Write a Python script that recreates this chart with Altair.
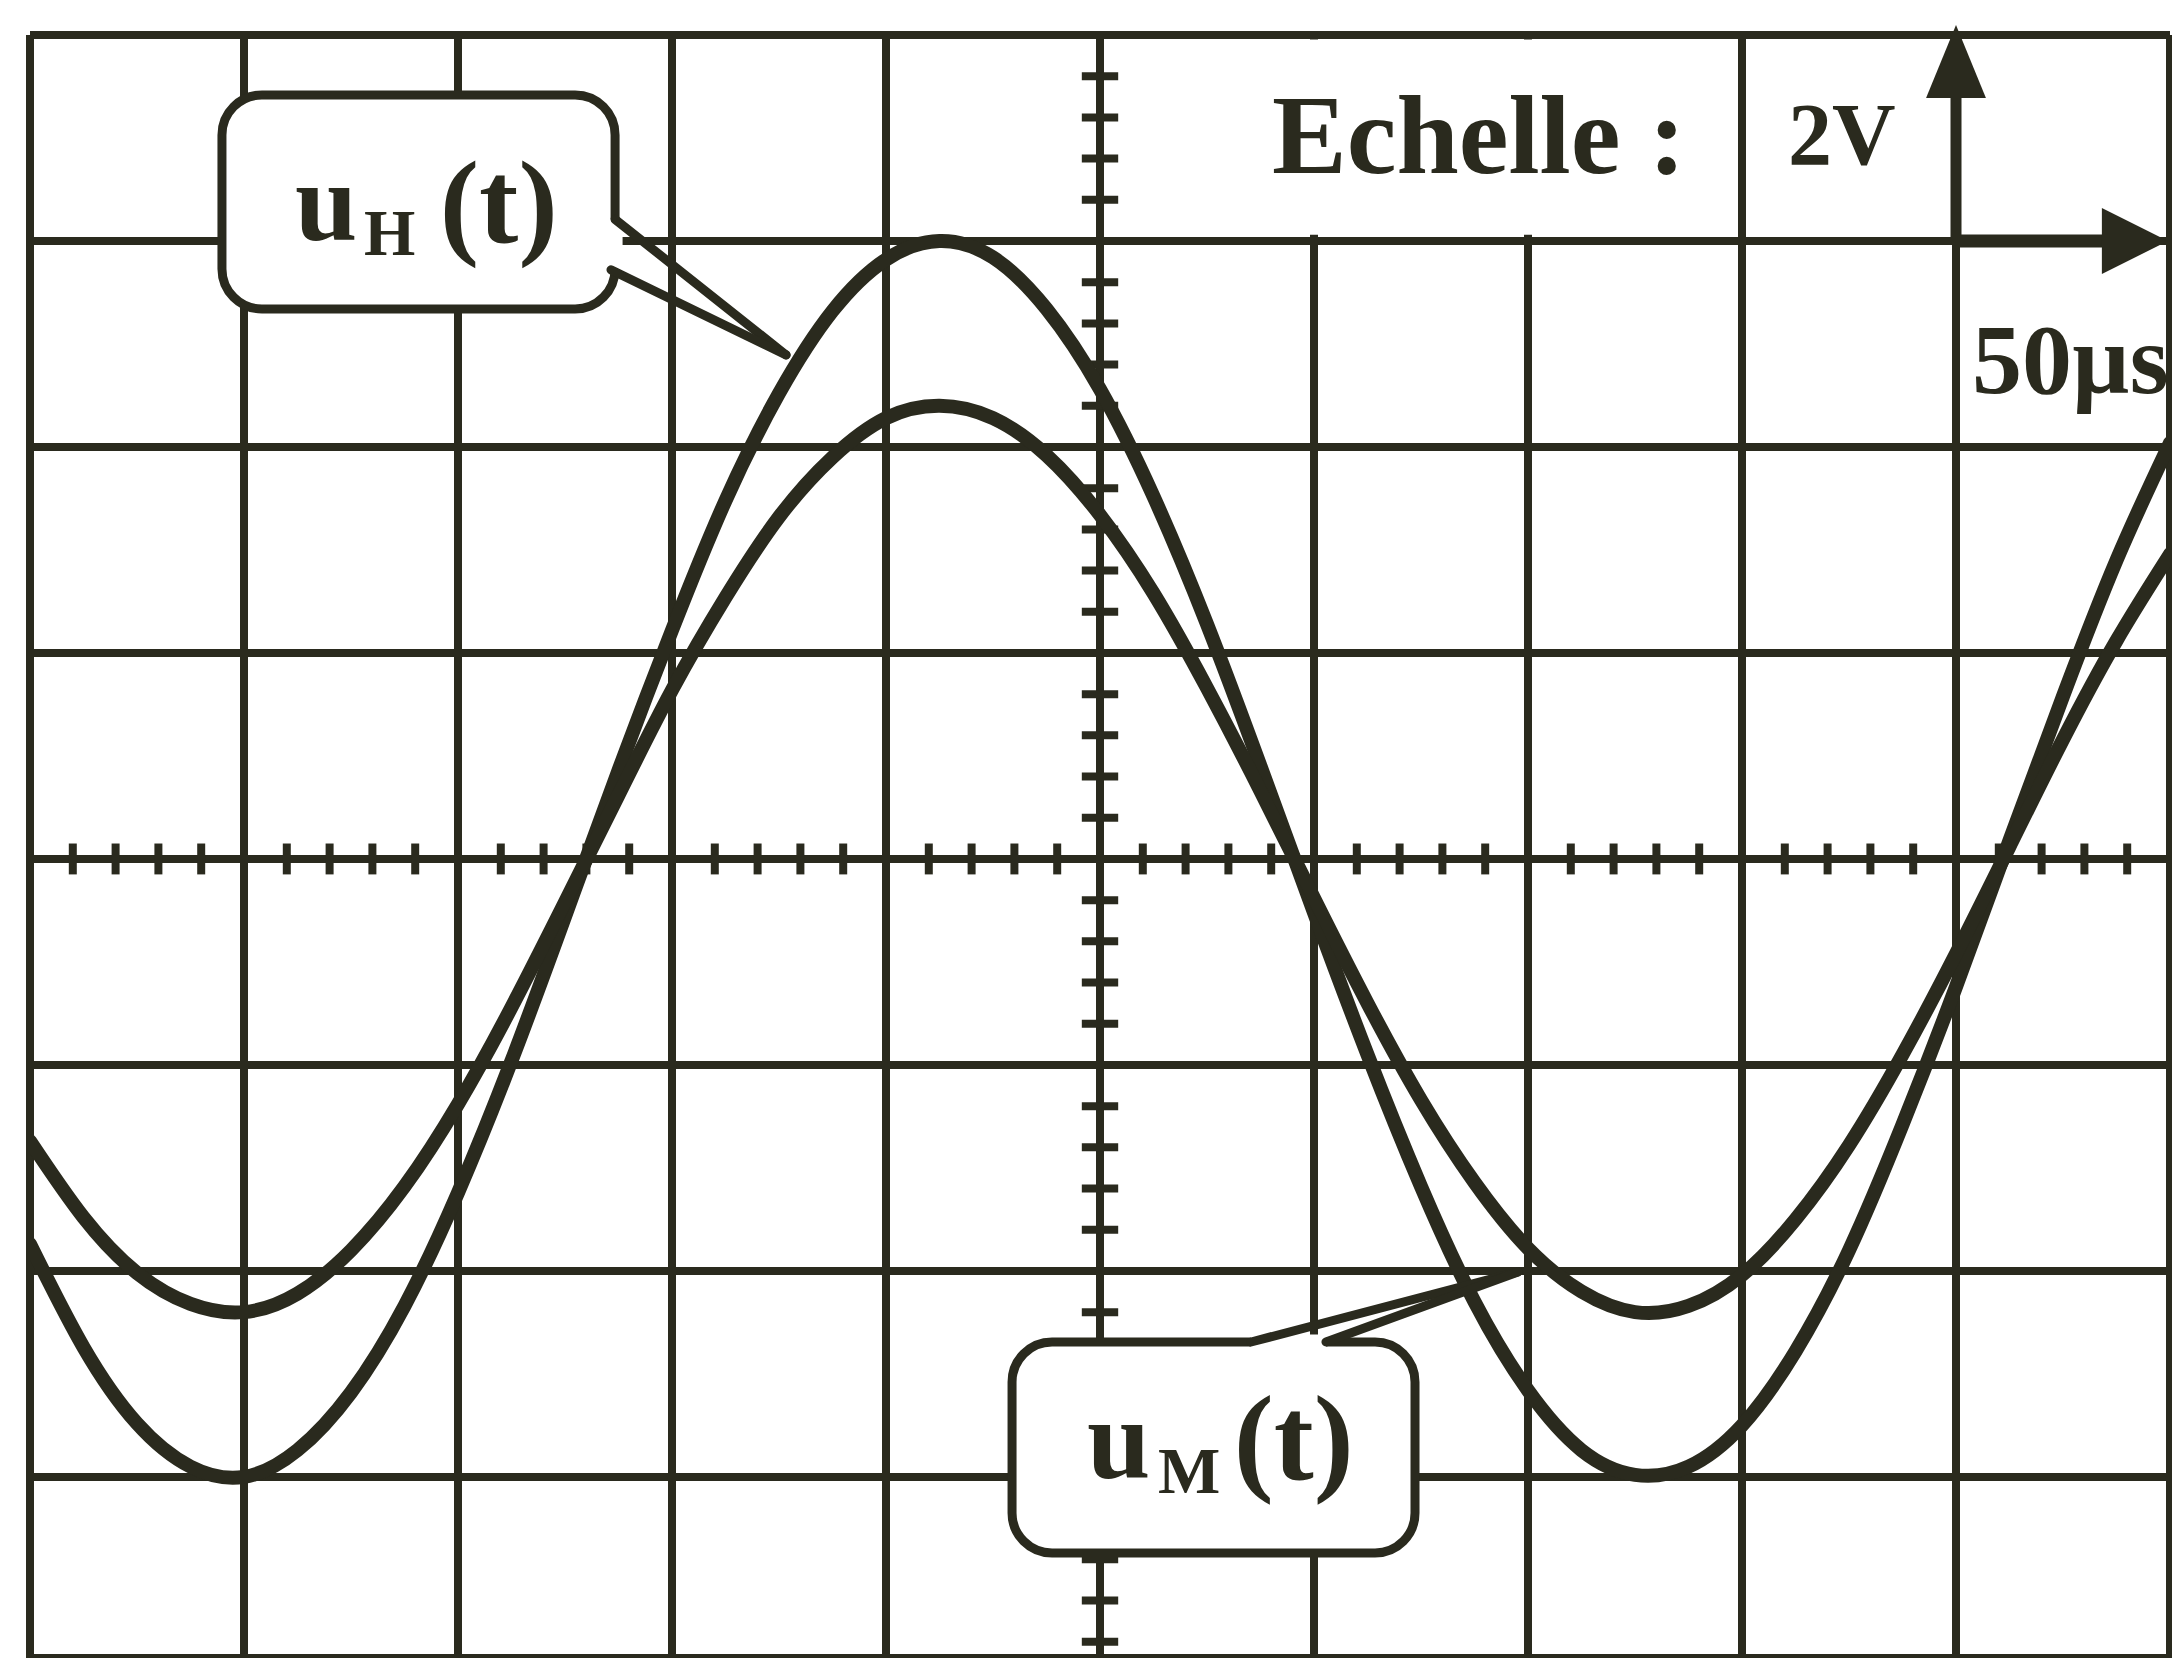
import altair as alt
import pandas as pd

# ---- data (units: divisions) ----
t_div = [0.0, 0.25, 0.5, 0.75, 1.0, 1.25, 1.5, 1.75, 2.0, 2.25, 2.5, 2.75, 3.0, 3.25,
         3.5, 3.75, 4.0, 4.25, 4.5, 4.75, 5.0, 5.25, 5.5, 5.75, 6.0, 6.25, 6.5, 6.75,
         7.0, 7.25, 7.5, 7.75, 8.0, 8.25, 8.5, 8.75, 9.0, 9.25, 9.5, 9.75, 10.0]
u_H = [-1.87, -2.37, -2.74, -2.95, -3.00, -2.87, -2.59, -2.17, -1.62, -0.98, -0.28, 0.43,
       1.11, 1.74, 2.26, 2.66, 2.91, 3.00, 2.92, 2.67, 2.28, 1.76, 1.14, 0.45, -0.26,
       -0.95, -1.59, -2.15, -2.58, -2.87, -2.99, -2.95, -2.75, -2.39, -1.90, -1.29, -0.62,
       0.09, 0.79, 1.45, 2.02]
u_M = [-1.37, -1.74, -2.01, -2.16, -2.20, -2.11, -1.90, -1.59, -1.19, -0.72, -0.21, 0.31,
       0.82, 1.27, 1.66, 1.95, 2.14, 2.20, 2.14, 1.96, 1.67, 1.29, 0.83, 0.33, -0.19,
       -0.70, -1.17, -1.57, -1.89, -2.10, -2.20, -2.17, -2.02, -1.75, -1.39, -0.95, -0.46,
       0.06, 0.58, 1.06, 1.48]

grid_t = [0, 1, 2, 3, 4, 5, 6, 7, 8, 9, 10]
grid_u = [-3.879, -3, -2, -1, 0, 1, 2, 3, 4]
minor_ticks_t = [round(k * 0.2, 2) for k in range(1, 50) if k % 5 != 0]
minor_ticks_u = [round(k * 0.2, 2) for k in range(-19, 20) if k % 5 != 0]

scale_texts = ["Echelle :", "2V", "50\u00b5s"]

INK = "#2a2a1e"
W, H = 2140, 1623
xs = alt.Scale(domain=[0, 10], nice=False, zero=False)
ys = alt.Scale(domain=[-3.879, 4], nice=False, zero=False)


def X(f="x"):
    return alt.X(f"{f}:Q", scale=xs, axis=None)


def Y(f="y"):
    return alt.Y(f"{f}:Q", scale=ys, axis=None)


# grid
vgrid = alt.Chart(pd.DataFrame({"x": grid_t})).mark_rule(color=INK, strokeWidth=8).encode(x=X())
hgrid = alt.Chart(pd.DataFrame({"y": grid_u})).mark_rule(color=INK, strokeWidth=8).encode(y=Y())

# graduations on the central axes
tx = pd.DataFrame({"x": minor_ticks_t, "y": [-0.075] * len(minor_ticks_t),
                   "y2": [0.075] * len(minor_ticks_t)})
ticks_x = alt.Chart(tx).mark_rule(color=INK, strokeWidth=8).encode(
    x=X(), y=Y(), y2=alt.Y2("y2:Q"))
ty = pd.DataFrame({"y": minor_ticks_u, "x": [4.915] * len(minor_ticks_u),
                   "x2": [5.085] * len(minor_ticks_u)})
ticks_y = alt.Chart(ty).mark_rule(color=INK, strokeWidth=8).encode(
    y=Y(), x=X(), x2=alt.X2("x2:Q"))

# curves
curves_df = pd.DataFrame({
    "x": t_div * 2,
    "y": u_H + u_M,
    "s": ["uH"] * len(t_div) + ["uM"] * len(t_div),
})
curves = alt.Chart(curves_df).mark_line(
    color=INK, strokeWidth=14, interpolate="natural", strokeCap="round", clip=True
).encode(x=X(), y=Y(), detail="s:N")

# blank area behind "Echelle :"
blank = alt.Chart(pd.DataFrame({"x": [5.12], "x2": [7.92], "y": [3.03], "y2": [3.978]})).mark_rect(
    color="white").encode(x=X(), x2=alt.X2("x2:Q"), y=Y(), y2=alt.Y2("y2:Q"))

# scale arrows
shafts = alt.Chart(pd.DataFrame({
    "x": [9.0, 9.0], "x2": [9.0, 9.8], "y": [3.0, 3.0], "y2": [4.02, 3.0], "w": [11, 13]
})).mark_rule(color=INK).encode(x=X(), x2=alt.X2("x2:Q"), y=Y(), y2=alt.Y2("y2:Q"),
                                 strokeWidth=alt.StrokeWidth("w:Q", scale=None))
head_up = alt.Chart(pd.DataFrame({"x": [9.0], "y": [3.871]})).mark_point(
    shape="M0,-1L0.82,1L-0.82,1Z", filled=True, color=INK, opacity=1, size=5329, strokeWidth=0
).encode(x=X(), y=Y())
head_right = alt.Chart(pd.DataFrame({"x": [9.836], "y": [3.0]})).mark_point(
    shape="M1,0L-1,-1L-1,1Z", filled=True, color=INK, opacity=1, size=4356, strokeWidth=0
).encode(x=X(), y=Y())

scale_df = pd.DataFrame({
    "x": [5.804, 8.215, 9.075],
    "y": [3.33, 3.373, 2.262],
    "text": scale_texts,
    "fs": [112, 88, 100],
})
scale_lbl = alt.Chart(scale_df).mark_text(
    font="Liberation Serif", fontWeight="bold", align="left", baseline="alphabetic", color=INK
).encode(x=X(), y=Y(), text="text:N", size=alt.Size("fs:Q", scale=None))

# callout boxes
boxes = alt.Chart(pd.DataFrame({
    "x": [0.897, 4.589], "x2": [2.734, 6.472], "y": [2.670, -3.369], "y2": [3.709, -2.345]
})).mark_rect(fill="white", stroke=INK, strokeWidth=9, cornerRadius=40).encode(
    x=X(), x2=alt.X2("x2:Q"), y=Y(), y2=alt.Y2("y2:Q"))

openings = alt.Chart(pd.DataFrame({
    "x": [2.734, 5.706], "x2": [2.734, 6.056], "y": [3.105, -2.345], "y2": [2.86, -2.345]
})).mark_rule(color="white", strokeWidth=15).encode(
    x=X(), x2=alt.X2("x2:Q"), y=Y(), y2=alt.Y2("y2:Q"))

tails = alt.Chart(pd.DataFrame({
    "x": [2.734, 2.715, 5.706, 6.056],
    "y": [3.105, 2.86, -2.345, -2.345],
    "x2": [3.533, 3.533, 6.953, 6.953],
    "y2": [2.447, 2.447, -2.005, -2.005],
})).mark_rule(color=INK, strokeWidth=9, strokeCap="round").encode(
    x=X(), x2=alt.X2("x2:Q"), y=Y(), y2=alt.Y2("y2:Q"))

callout_df = pd.DataFrame({
    "x": [1.238, 1.561, 1.915, 4.939, 5.271, 5.625],
    "y": [3.005, 2.93, 2.99, -3.005, -3.078, -3.01],
    "text": ["u", "H", "(t)", "u", "M", "(t)"],
    "fs": [112, 66, 118, 114, 66, 120],
})
callout_lbl = alt.Chart(callout_df).mark_text(
    font="Liberation Serif", fontWeight="bold", align="left", baseline="alphabetic", color=INK
).encode(x=X(), y=Y(), text="text:N", size=alt.Size("fs:Q", scale=None))

chart = alt.layer(
    vgrid, hgrid, ticks_x, ticks_y, curves, blank, shafts, head_up, head_right,
    scale_lbl, boxes, openings, tails, callout_lbl
).properties(
    width=W, height=H,
    padding={"left": 22, "top": 27, "right": 2, "bottom": 0},
    autosize=alt.AutoSizeParams(type="none"),
    background="white",
).configure_view(stroke=None)

chart.save("out.html", embed_options={"renderer": "svg", "actions": False})
